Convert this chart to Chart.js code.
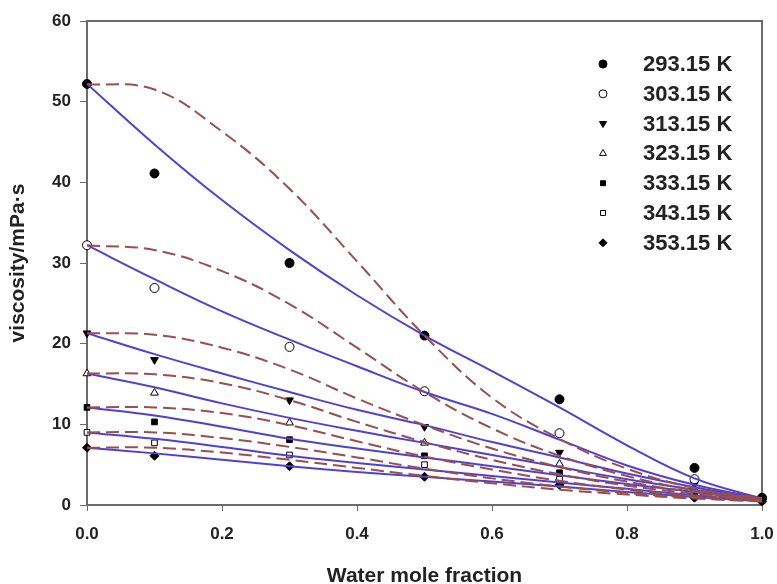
<!DOCTYPE html>
<html>
<head>
<meta charset="utf-8">
<script src="https://cdn.jsdelivr.net/npm/chart.js@4/dist/chart.umd.min.js"></script>
<style>
  html, body { margin: 0; padding: 0; background: #fff; overflow: hidden; }
  #wrap { width: 777px; height: 584px; }
</style>
</head>
<body>
<div id="wrap"><canvas id="grafica-viscosidad" width="777" height="584"></canvas></div>
<script>
(function() {
// ---------------------------------------------------------------------------
// DATA
// ---------------------------------------------------------------------------
var temperaturas = ['293.15 K', '303.15 K', '313.15 K', '323.15 K', '333.15 K', '343.15 K', '353.15 K'];

// fracciones molares medidas
var xMedida = [0, 0.1, 0.3, 0.5, 0.7, 0.9, 1.0];

var v293 = [52.2, 41.1, 30.0, 21.0, 13.1, 4.6, 0.9];
var v303 = [32.2, 26.9, 19.6, 14.1, 8.9, 3.2, 0.8];
var v313 = [21.3, 18.0, 13.0, 9.7, 6.5, 2.6, 0.7];
var v323 = [16.3, 13.9, 10.2, 7.7, 5.1, 2.0, 0.6];
var v333 = [12.1, 10.3, 8.1, 6.1, 4.0, 1.6, 0.55];
var v343 = [9.0, 7.7, 6.2, 5.0, 3.2, 1.3, 0.5];
var v353 = [7.1, 6.1, 4.8, 3.5, 2.5, 0.9, 0.45];

// curvas de ajuste
var xCurva = [0, 0.1, 0.2, 0.3, 0.4, 0.5, 0.6, 0.7, 0.8, 0.9, 1.0];

var azul293 = [52.2, 44.7, 37.8, 31.6, 26.0, 21.0, 16.6, 12.1, 7.4, 3.3, 0.8];
var azul303 = [32.2, 28.0, 24.0, 20.5, 17.2, 14.0, 11.3, 8.1, 4.9, 2.5, 0.8];
var azul313 = [21.3, 18.7, 16.3, 14.0, 11.8, 9.9, 7.8, 5.9, 3.9, 2.2, 0.7];
var azul323 = [16.3, 14.6, 12.6, 10.8, 9.2, 7.7, 6.2, 4.7, 3.2, 1.9, 0.65];
var azul333 = [12.1, 11.1, 9.7, 8.2, 7.0, 5.9, 4.8, 3.7, 2.6, 1.6, 0.55];
var azul343 = [9.0, 8.2, 7.2, 6.1, 5.2, 4.4, 3.6, 2.8, 2.0, 1.2, 0.5];
var azul353 = [7.1, 6.4, 5.6, 4.8, 4.1, 3.5, 2.9, 2.3, 1.6, 1.0, 0.45];

var rojo293 = [52.2, 51.5, 46.3, 39.2, 30.2, 21.0, 13.3, 8.2, 4.5, 2.1, 0.8];
var rojo303 = [32.2, 31.6, 29.0, 24.9, 19.5, 14.0, 9.5, 6.1, 3.6, 1.8, 0.8];
var rojo313 = [21.3, 21.1, 19.5, 16.8, 13.2, 9.9, 7.0, 4.7, 2.9, 1.6, 0.7];
var rojo323 = [16.3, 16.2, 15.1, 13.0, 10.3, 7.8, 5.6, 3.8, 2.4, 1.4, 0.65];
var rojo333 = [12.1, 12.1, 11.4, 9.9, 7.9, 6.0, 4.4, 3.0, 1.9, 1.1, 0.55];
var rojo343 = [9.0, 9.0, 8.3, 7.2, 5.9, 4.5, 3.3, 2.3, 1.5, 0.9, 0.5];
var rojo353 = [7.1, 7.1, 6.5, 5.6, 4.6, 3.6, 2.7, 1.9, 1.3, 0.8, 0.45];

var yTicks = [0, 10, 20, 30, 40, 50, 60];
var xTicks = [0, 0.2, 0.4, 0.6, 0.8, 1.0];

// ---------------------------------------------------------------------------
// BUILD DATASETS
// ---------------------------------------------------------------------------
var medidas = [v293, v303, v313, v323, v333, v343, v353];
var azules = [azul293, azul303, azul313, azul323, azul333, azul343, azul353];
var rojos = [rojo293, rojo303, rojo313, rojo323, rojo333, rojo343, rojo353];

// simbolo de cada temperatura (relleno negro o blanco)
var marcadores = [
    { style: 'circle', rot: 0, fill: '#000' },
    { style: 'circle', rot: 0, fill: '#fff' },
    { style: 'triangle', rot: 180, fill: '#000' },
    { style: 'triangle', rot: 0, fill: '#fff' },
    { style: 'rect', rot: 0, fill: '#000' },
    { style: 'rect', rot: 0, fill: '#fff' },
    { style: 'rectRot', rot: 0, fill: '#000' }
];

function pares(xs, ys) {
    return xs.map(function(x, i) { return { x: x, y: ys[i] }; });
}

var datasets = [];

// lineas discontinuas
rojos.forEach(function(serie, i) {
    datasets.push({
        label: 'ajuste2 ' + temperaturas[i],
        data: pares(xCurva, serie),
        showLine: true,
        borderColor: '#9a4f4c',
        borderWidth: 2,
        borderDash: [13, 6],
        pointRadius: 0,
        fill: false,
        tension: 0.4
    });
});

// lineas continuas azules
azules.forEach(function(serie, i) {
    datasets.push({
        label: 'ajuste1 ' + temperaturas[i],
        data: pares(xCurva, serie),
        showLine: true,
        borderColor: '#5140d6',
        borderWidth: 2,
        pointRadius: 0,
        fill: false,
        tension: 0.4
    });
});

// puntos experimentales
medidas.forEach(function(serie, i) {
    var m = marcadores[i];
    datasets.push({
        label: temperaturas[i],
        data: pares(xMedida, serie),
        showLine: false,
        clip: false,
        pointStyle: m.style,
        rotation: m.rot,
        pointRadius: m.style === 'rect' ? 4 : 4.5,
        pointBackgroundColor: m.fill,
        pointBorderColor: '#000',
        pointBorderWidth: 1
    });
});

// ---------------------------------------------------------------------------
// PLUGINS: marco y leyenda
// ---------------------------------------------------------------------------
var marco = {
    id: 'marco',
    beforeDatasetsDraw: function(chart) {
        var a = chart.chartArea;
        var ctx = chart.ctx;
        ctx.save();
        ctx.strokeStyle = '#6b6b6b';
        ctx.lineWidth = 2;
        ctx.beginPath();
        ctx.moveTo(a.left, a.top);
        ctx.lineTo(a.right, a.top);
        ctx.lineTo(a.right, a.bottom);
        ctx.stroke();
        ctx.restore();
    }
};

function dibujarMarcador(ctx, m, x, y, r) {
    ctx.fillStyle = m.fill;
    ctx.strokeStyle = '#000';
    ctx.lineWidth = 1;
    if (Chart.helpers && Chart.helpers.drawPoint) {
        Chart.helpers.drawPoint(ctx, { pointStyle: m.style, rotation: m.rot, radius: r, borderWidth: 1 }, x, y);
        return;
    }
    ctx.beginPath();
    ctx.arc(x, y, r, 0, Math.PI * 2);
    ctx.fill();
    ctx.stroke();
}

var leyenda = {
    id: 'leyenda',
    afterDatasetsDraw: function(chart) {
        var ctx = chart.ctx;
        ctx.save();
        for (var i = 0; i < temperaturas.length; i++) {
            var y = 64 + i * 29.8;
            dibujarMarcador(ctx, marcadores[i], 603, y, marcadores[i].style === 'rect' ? 3.5 : 4);
            ctx.font = 'bold 22px "Liberation Sans", Arial, sans-serif';
            ctx.textBaseline = 'middle';
            ctx.textAlign = 'left';
            ctx.fillStyle = '#222';
            ctx.fillText(temperaturas[i], 643, y + 1);
        }
        ctx.restore();
    }
};

// ---------------------------------------------------------------------------
// CHART
// ---------------------------------------------------------------------------
var fuente = '"Liberation Sans", Arial, sans-serif';

var opciones = {
    responsive: false,
    animation: false,
    layout: { padding: { left: 0, right: 15, top: 21, bottom: 0 } },
    plugins: {
        legend: { display: false },
        tooltip: { enabled: false }
    },
    scales: {
        x: {
            type: 'linear',
            min: 0,
            max: 1,
            afterFit: function(scale) {
                scale.height = 79;
                // que el margen de la etiqueta 1.0 no encoja el area
                scale.paddingLeft = 12;
                scale.paddingRight = 12;
            },
            afterBuildTicks: function(scale) {
                scale.ticks = xTicks.map(function(v) { return { value: v }; });
            },
            ticks: {
                color: '#222',
                padding: 13,
                font: { family: fuente, size: 17, weight: 'bold' },
                callback: function(v) { return Number(v).toFixed(1); }
            },
            grid: { display: true, drawOnChartArea: false, drawTicks: true, tickLength: 6, color: '#6b6b6b' },
            border: { display: true, color: '#6b6b6b', width: 2 },
            title: {
                display: true,
                text: 'Water mole fraction',
                color: '#222',
                font: { family: fuente, size: 21, weight: 'bold' },
                padding: { top: 0, bottom: -5 }
            }
        },
        y: {
            min: 0,
            max: 60,
            afterFit: function(scale) { scale.width = 87; },
            afterBuildTicks: function(scale) {
                scale.ticks = yTicks.map(function(v) { return { value: v }; });
            },
            ticks: {
                color: '#222',
                padding: 9,
                font: { family: fuente, size: 17, weight: 'bold' }
            },
            grid: { display: true, drawOnChartArea: false, drawTicks: true, tickLength: 7, color: '#6b6b6b' },
            border: { display: true, color: '#6b6b6b', width: 2 },
            title: {
                display: true,
                text: 'viscosity/mPa·s',
                color: '#222',
                font: { family: fuente, size: 21, weight: 'bold' },
                padding: { top: 6, bottom: 0 }
            }
        }
    }
};

var ctx = document.getElementById('grafica-viscosidad').getContext('2d');
var grafica = new Chart(ctx, {
    type: 'scatter',
    data: { datasets: datasets },
    options: opciones,
    plugins: [marco, leyenda]
});
})();
</script>
</body>
</html>
